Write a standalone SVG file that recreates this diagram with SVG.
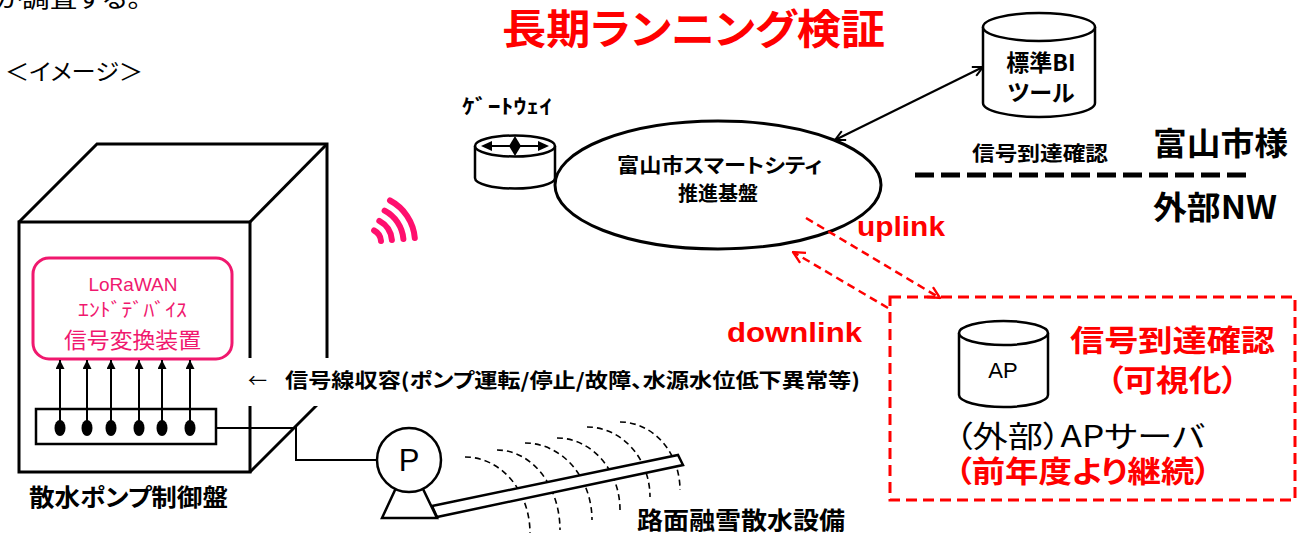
<svg xmlns="http://www.w3.org/2000/svg" width="1312" height="534" viewBox="0 0 1312 534">
  <style>
    .t { font-family: "Noto Sans CJK JP", "Liberation Sans", sans-serif; font-feature-settings: "palt"; fill: #000; }
    .lat { font-family: "Liberation Sans", "Noto Sans CJK JP", sans-serif; }
    .b { font-weight: bold; }
    .red { fill: #FF0000; }
    .pink { fill: #F0186E; }
    .ln { fill: none; stroke: #000; stroke-width: 3; }
    .thin { fill: none; stroke: #000; stroke-width: 2; }
    .spray { fill: none; stroke: #000; stroke-width: 1.6; stroke-dasharray: 6 4; }
    .wifi { fill: none; stroke: #FF0F6E; stroke-width: 6; stroke-linecap: round; }
    .rdash { fill: none; stroke: #FF0000; stroke-width: 2.5; stroke-dasharray: 8 5; }
  </style>
  <defs>
    <marker id="openBlk" viewBox="0 0 12 12" refX="11" refY="6" markerWidth="12" markerHeight="12" markerUnits="userSpaceOnUse" orient="auto-start-reverse">
      <path d="M1,1 L11,6 L1,11" fill="none" stroke="#000" stroke-width="2"/>
    </marker>
    <marker id="openRed" viewBox="0 0 12 12" refX="11" refY="6" markerWidth="14" markerHeight="14" markerUnits="userSpaceOnUse" orient="auto">
      <path d="M1,1 L11,6 L1,11" fill="none" stroke="#FF0000" stroke-width="2"/>
    </marker>
    <marker id="solid" viewBox="0 0 10 10" refX="10" refY="5" markerWidth="11" markerHeight="9" markerUnits="userSpaceOnUse" orient="auto">
      <path d="M0,0 L10,5 L0,10 Z" fill="#000"/>
    </marker>
  </defs>

  <rect width="1312" height="534" fill="#fff"/>

  <!-- heading texts -->
  <text class="t" x="-5" y="7" font-size="23" textLength="146" lengthAdjust="spacingAndGlyphs">が調査する。</text>
  <text class="t" x="5" y="80" font-size="23" textLength="138" lengthAdjust="spacingAndGlyphs">＜イメージ＞</text>
  <text class="t b red" x="502" y="44" font-size="41" textLength="383" lengthAdjust="spacingAndGlyphs">長期ランニング検証</text>

  <!-- control cabinet (isometric box) -->
  <g id="cabinet">
    <path class="ln" d="M19,222 L97,144 L327,144 L327,395 L250,472"/>
    <path class="ln" d="M250,222 L327,144"/>
    <rect x="19" y="222" width="231" height="250" fill="#fff" stroke="#000" stroke-width="3"/>
    <text class="t b" x="29" y="506" font-size="24" textLength="199" lengthAdjust="spacingAndGlyphs">散水ポンプ制御盤</text>
  </g>

  <!-- LoRaWAN end device -->
  <g id="lorawan-device">
    <rect x="33" y="258" width="199" height="101" rx="16" fill="#fff" stroke="#F0186E" stroke-width="3"/>
    <text class="lat pink" x="133" y="291" font-size="19" text-anchor="middle">LoRaWAN</text>
    <text class="t pink" x="78" y="317" font-size="19" textLength="109" lengthAdjust="spacingAndGlyphs">ｴﾝﾄﾞﾃﾞﾊﾞｲｽ</text>
    <text class="t pink" x="64" y="348" font-size="22" textLength="137" lengthAdjust="spacingAndGlyphs">信号変換装置</text>
  </g>

  <!-- terminal block -->
  <g id="terminal-block">
    <rect x="36" y="409" width="180" height="35" fill="#fff" stroke="#000" stroke-width="2.5"/>
    <g fill="#000">
      <ellipse cx="60" cy="428" rx="5.5" ry="8"/>
      <ellipse cx="87" cy="428" rx="5.5" ry="8"/>
      <ellipse cx="111" cy="428" rx="5.5" ry="8"/>
      <ellipse cx="139" cy="428" rx="5.5" ry="8"/>
      <ellipse cx="162" cy="428" rx="5.5" ry="8"/>
      <ellipse cx="190" cy="428" rx="5.5" ry="8"/>
    </g>
  </g>

  <!-- wireless symbol -->
  <g id="radio">
    <path class="wifi" d="M374.1,230.5 A13,13 0 0 1 381,240.9"/>
    <path class="wifi" d="M379.3,220.8 A24,24 0 0 1 391.9,239.9"/>
    <path class="wifi" d="M384.6,210.7 A35.5,35.5 0 0 1 403.4,238.9"/>
    <path class="wifi" d="M390,200.5 A47,47 0 0 1 414.8,237.9"/>
  </g>

  <!-- spray pattern, pipe and pump -->
  <g id="sprinkler">
    <path class="spray" d="M465,457 A65,76 0 0 1 530,533"/>
    <path class="spray" d="M497,450 A63,80 0 0 1 560,530"/>
    <path class="spray" d="M525,443 A67,77 0 0 1 592,520"/>
    <path class="spray" d="M557,438 A63,72 0 0 1 620,510"/>
    <path class="spray" d="M587,427 A63,70 0 0 1 650,497"/>
    <path class="spray" d="M620,422 A60,68 0 0 1 680,490"/>
    <polygon points="432,506 678,455 683,465 437,517" fill="#fff" stroke="#000" stroke-width="2.5"/>
    <text class="t b" x="637" y="529" font-size="24" textLength="208" lengthAdjust="spacingAndGlyphs">路面融雪散水設備</text>
  </g>
  <g id="pump">
    <polygon points="382,518 437,518 409,460" fill="#fff" stroke="#000" stroke-width="2.5"/>
    <circle cx="409" cy="460" r="32" fill="#fff" stroke="#000" stroke-width="2.5"/>
    <text class="lat" x="409" y="471" font-size="31" text-anchor="middle">P</text>
  </g>

  <!-- gateway -->
  <g id="gateway">
    <path d="M475,146 L475,178 A40,10.5 0 0 0 555,178 L555,146" fill="#fff" stroke="#000" stroke-width="2.5"/>
    <ellipse cx="515" cy="146" rx="40" ry="10.5" fill="#fff" stroke="#000" stroke-width="2.5"/>
    <path d="M490,146 L540,146" stroke="#000" stroke-width="2"/>
    <polygon points="481,146 492,141 492,151" fill="#000"/>
    <polygon points="549,146 538,141 538,151" fill="#000"/>
    <polygon points="515,136 521,146 515,156 509,146" fill="#000"/>
    <text class="t b" x="462" y="114" font-size="20" textLength="90" lengthAdjust="spacingAndGlyphs">ｹﾞｰﾄｳｪｲ</text>
  </g>

  <!-- smart city platform -->
  <g id="platform">
    <ellipse cx="718" cy="185" rx="163" ry="64" fill="#fff" stroke="#000" stroke-width="3"/>
    <text class="t b" x="617" y="173" font-size="20" textLength="205" lengthAdjust="spacingAndGlyphs">富山市スマートシティ</text>
    <text class="t b" x="718" y="201" font-size="20" text-anchor="middle">推進基盤</text>
  </g>

  <!-- BI tool -->
  <g id="bi-tool">
    <path d="M983,27 L983,103 A56,14 0 0 0 1095,103 L1095,27" fill="#fff" stroke="#000" stroke-width="2.5"/>
    <ellipse cx="1039" cy="27" rx="56" ry="14" fill="#fff" stroke="#000" stroke-width="2.5"/>
    <text class="t b" x="1041" y="71" font-size="23" text-anchor="middle">標準BI</text>
    <text class="t b" x="1041" y="101" font-size="23" text-anchor="middle">ツール</text>
  </g>

  <!-- network boundary -->
  <g id="boundary">
    <text class="t b" x="972" y="161" font-size="20" textLength="136" lengthAdjust="spacingAndGlyphs">信号到達確認</text>
    <text class="t b" x="1153" y="155" font-size="32" textLength="135" lengthAdjust="spacingAndGlyphs">富山市様</text>
    <line x1="915" y1="175" x2="1253" y2="175" stroke="#000" stroke-width="5" stroke-dasharray="19 7"/>
    <text class="t b" x="1153" y="219" font-size="32" textLength="124" lengthAdjust="spacingAndGlyphs">外部NW</text>
  </g>

  <!-- external AP server -->
  <g id="ap-server">
    <rect x="890" y="297" width="405" height="203" fill="none" stroke="#FF0000" stroke-width="3" stroke-dasharray="11 6"/>
    <path d="M959,333 L959,395 A44.5,12 0 0 0 1048,395 L1048,333" fill="#fff" stroke="#000" stroke-width="2.5"/>
    <ellipse cx="1003.5" cy="333" rx="44.5" ry="12" fill="#fff" stroke="#000" stroke-width="2.5"/>
    <text class="lat" x="1003" y="378" font-size="22" text-anchor="middle">AP</text>
    <text class="t b red" x="1070" y="351" font-size="30" textLength="205" lengthAdjust="spacingAndGlyphs">信号到達確認</text>
    <text class="t b red" x="1107" y="391" font-size="30" textLength="131" lengthAdjust="spacingAndGlyphs">（可視化）</text>
    <text class="t" x="955" y="447" font-size="30" textLength="250" lengthAdjust="spacingAndGlyphs">（外部）APサーバ</text>
    <text class="t b red" x="955" y="482" font-size="30" textLength="256" lengthAdjust="spacingAndGlyphs">（前年度より継続）</text>
  </g>

  <!-- connectors -->
  <g id="connectors">
    <line x1="835" y1="140" x2="983" y2="67" stroke="#000" stroke-width="2.2" marker-start="url(#openBlk)" marker-end="url(#openBlk)"/>
    <line class="rdash" x1="806" y1="218" x2="940" y2="298" marker-end="url(#openRed)"/>
    <line class="rdash" x1="888" y1="308" x2="793" y2="252" marker-end="url(#openRed)"/>
    <g stroke="#000" stroke-width="2">
      <line x1="60" y1="428" x2="60" y2="360" marker-end="url(#solid)"/>
      <line x1="87" y1="428" x2="87" y2="360" marker-end="url(#solid)"/>
      <line x1="111" y1="428" x2="111" y2="360" marker-end="url(#solid)"/>
      <line x1="139" y1="428" x2="139" y2="360" marker-end="url(#solid)"/>
      <line x1="162" y1="428" x2="162" y2="360" marker-end="url(#solid)"/>
      <line x1="190" y1="428" x2="190" y2="360" marker-end="url(#solid)"/>
    </g>
    <path class="thin" d="M216,428 L296,428 L296,460 L377,460"/>
  </g>

  <!-- link labels -->
  <text class="lat b red" x="857" y="236" font-size="27" textLength="88" lengthAdjust="spacingAndGlyphs">uplink</text>
  <text class="lat b red" x="727" y="342" font-size="27" textLength="135" lengthAdjust="spacingAndGlyphs">downlink</text>

  <!-- signal wiring label -->
  <g id="signal-label">
    <rect x="246" y="358" width="625" height="48" fill="#fff"/>
    <text class="t" x="248" y="388" font-size="19">←</text>
    <text class="t b" x="285" y="388" font-size="20" textLength="575" lengthAdjust="spacingAndGlyphs">信号線収容(ポンプ運転/停止/故障、水源水位低下異常等)</text>
  </g>
</svg>
